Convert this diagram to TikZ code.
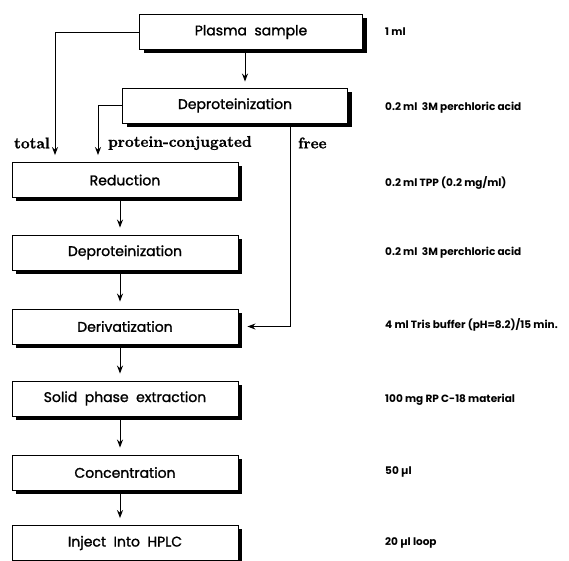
\documentclass[tikz,border=0pt]{standalone}
\usepackage{fontspec}
\usetikzlibrary{arrows.meta,shadows}
\newfontfamily\boxfont{Poppins}[FakeBold=1.3]
\newfontfamily\notefont{Poppins}
\newfontfamily\branchfont{Latin Modern Roman}[FakeBold=1.2]
\tikzset{
  stepbox/.style={draw,fill=white,line width=0.9pt,minimum width=226pt,minimum height=35pt,
    inner sep=0pt,font=\boxfont\fontsize{14}{16}\selectfont,
    drop shadow={shadow xshift=4pt,shadow yshift=-3.5pt,opacity=1,fill=black}},
  note/.style={anchor=west,inner sep=0pt,font=\notefont\bfseries\fontsize{10.5}{12}\selectfont},
  branch/.style={inner sep=0pt,font=\branchfont\bfseries\fontsize{15.5}{18}\selectfont},
  flow/.style={line width=1pt,-{Stealth[length=8pt,width=6pt]}},
}
\begin{document}
\begin{tikzpicture}[x=1pt,y=-1pt]
\useasboundingbox (0,0) rectangle (569,560);
%\draw[gray,very thin] (0,0) grid[step=50] (569,560);
% main chain
\node[stepbox,minimum width=223pt] (plasma) at (251,32) {Plasma\ \ sample};
\node[stepbox,minimum width=225pt] (deprotA) at (235,105.5) {Deproteinization};
\node[stepbox] (reduct) at (125,180) {Reduction};
\node[stepbox] (deprotB) at (125,252.5) {Deproteinization};
\node[stepbox] (deriv) at (125,326.5) {Derivatization};
\node[stepbox] (spe) at (125,398.5) {Solid\ \ phase\ \ extraction};
\node[stepbox] (conc) at (125,472.5) {Concentration};
\node[stepbox] (inject) at (125,543) {Inject\ \ Into\ \ HPLC};
% branches
\coordinate (totalc) at (55,32);
\coordinate (protc) at (98,105.5);
\coordinate (freec) at (290,326.5);
\node[branch,anchor=east] (total) at (50,143) {total};
\node[branch,anchor=west] (prot) at (108,143) {protein-conjugated};
\node[branch,anchor=west] (free) at (298,143) {free};
\draw[flow,shorten >=6pt] ([xshift=-6pt]plasma.south) -- ([xshift=-6pt]plasma.south |- deprotA.north);
\draw[flow,shorten >=7pt] (plasma.west) -- (totalc) -- (totalc |- reduct.north);
\draw[flow,shorten >=7pt] (deprotA.west) -- (protc) -- (protc |- reduct.north);
\draw[flow,shorten >=9pt] (freec |- deprotA.south) -- (freec) -- (deriv.east);
\foreach \a/\b in {reduct/deprotB,deprotB/deriv,deriv/spe,spe/conc,conc/inject}
  \draw[flow,shorten <=3pt,shorten >=7pt] ([xshift=-5pt]\a.south) -- ([xshift=-5pt]\a.south |- \b.north);
% conditions
\node[note] (n1) at (385,32) {1 ml};
\node[note] (n2) at (385,108) {0.2 ml\ \ 3M perchloric acid};
\node[note] (n3) at (385,183) {0.2 ml TPP (0.2 mg/ml)};
\node[note] (n4) at (385,253) {0.2 ml\ \ 3M perchloric acid};
\node[note] (n5) at (385,325) {4 ml Tris buffer (pH=8.2)/15 min.};
\node[note] (n6) at (385,400) {100 mg RP C-18 material};
\node[note] (n7) at (385,472) {50 µl};
\node[note] (n8) at (385,543) {20 µl loop};
\end{tikzpicture}
\end{document}
